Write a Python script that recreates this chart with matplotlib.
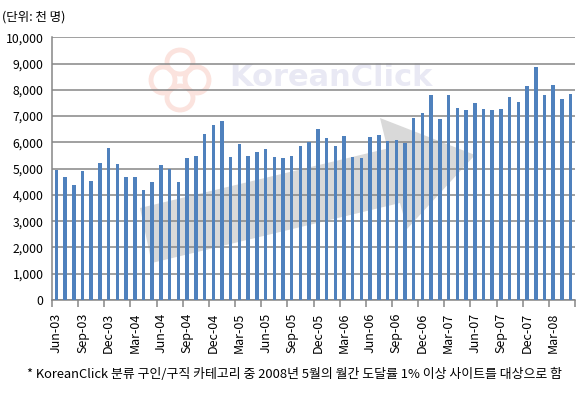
import matplotlib
matplotlib.use("Agg")
import matplotlib.pyplot as plt
from matplotlib.patches import Polygon, Ellipse
import numpy as np

plt.rcParams['font.family'] = ['Noto Sans CJK KR', 'DejaVu Sans']

# Monthly values, Jun-03 .. May-08 (thousand persons)
values = [4950, 4680, 4380, 4910, 4530, 5220, 5780, 5180, 4680, 4680,
          4190, 4490, 5140, 4990, 4490, 5410, 5490, 6320, 6660, 6820,
          5450, 5940, 5490, 5630, 5740, 5450, 5410, 5490, 5860, 6010,
          6510, 6170, 5860, 6240, 5450, 5410, 6200, 6280, 6050, 6090,
          5970, 6930, 7120, 7800, 6890, 7800, 7310, 7240, 7500, 7270,
          7240, 7270, 7730, 7540, 8140, 8870, 7800, 8180, 7660, 7840]
tick_labels = ['Jun-03', 'Sep-03', 'Dec-03', 'Mar-04', 'Jun-04', 'Sep-04',
               'Dec-04', 'Mar-05', 'Jun-05', 'Sep-05', 'Dec-05', 'Mar-06',
               'Jun-06', 'Sep-06', 'Dec-06', 'Mar-07', 'Jun-07', 'Sep-07',
               'Dec-07', 'Mar-08']
y_ticks = [0, 1000, 2000, 3000, 4000, 5000, 6000, 7000, 8000, 9000, 10000]

W, H = 580, 396
fig = plt.figure(figsize=(W / 100, H / 100), dpi=100)
fig.patch.set_facecolor('white')

def fx(px):
    return px / W

def fy(py):
    return 1 - py / H

ax = fig.add_axes([fx(52), fy(300), fx(575) - fx(52), fy(37.3) - fy(300)])
ax.set_facecolor('none')
ax.set_zorder(2)

# decorative background arrow (figure coordinates)
arrow_px = [(140, 208), (387.5, 148.5), (380, 118), (475, 155),
            (407, 229), (400, 203), (151.7, 263)]
arrow = Polygon([(fx(x), fy(y)) for x, y in arrow_px], closed=True,
                transform=fig.transFigure, facecolor='#d9d9d9',
                edgecolor='none', zorder=0)
fig.patches.append(arrow)

# watermark logo + text
for (cx, cy, w, h) in [(180, 62, 26, 24), (180, 98, 26, 24), (163, 80, 24, 26), (197, 80, 24, 26)]:
    e = Ellipse((fx(cx), fy(cy)), fx(w), h / H, transform=fig.transFigure,
                facecolor='none', edgecolor='#fbe3de', linewidth=3.5, zorder=0)
    fig.patches.append(e)
fig.text(fx(229), fy(77), 'KoreanClick', fontsize=22, fontweight='bold',
         color='#e9e9f4', ha='left', va='center', family='DejaVu Sans', zorder=0)

x = np.arange(len(values))
ax.bar(x, values, width=0.4, color='#4f81bd', zorder=3)

ax.set_xlim(-0.5, len(values) - 0.5)
ax.set_ylim(0, 10000)
ax.set_yticks(y_ticks)
ax.set_yticklabels([f'{v:,}' for v in y_ticks], fontsize=8.8)
ax.yaxis.grid(True, color='#868686', linewidth=1.1, zorder=1)
ax.set_axisbelow(True)
ax.tick_params(axis='y', length=0, pad=6)

ax.set_xticks(np.arange(0, len(values), 3))
ax.set_xticklabels(tick_labels, rotation=90, fontsize=9)
ax.set_xticks(np.arange(-0.5, len(values), 3), minor=True)
ax.tick_params(axis='x', which='major', length=0, pad=9)
ax.tick_params(axis='x', which='minor', length=5, color='#868686', width=1.1)

for s in ['top', 'right']:
    ax.spines[s].set_visible(False)
for s in ['left', 'bottom']:
    ax.spines[s].set_color('#868686')
    ax.spines[s].set_linewidth(1.1)

fig.text(fx(2), fy(17), '(단위: 천 명)', fontsize=9, ha='left', va='center')
fig.text(fx(27), fy(374), '* KoreanClick 분류 구인/구직 카테고리 중 2008년 5월의 월간 도달률 1% 이상 사이트를 대상으로 함',
         fontsize=9.3, ha='left', va='center')

fig.savefig('out.png', dpi=100)
